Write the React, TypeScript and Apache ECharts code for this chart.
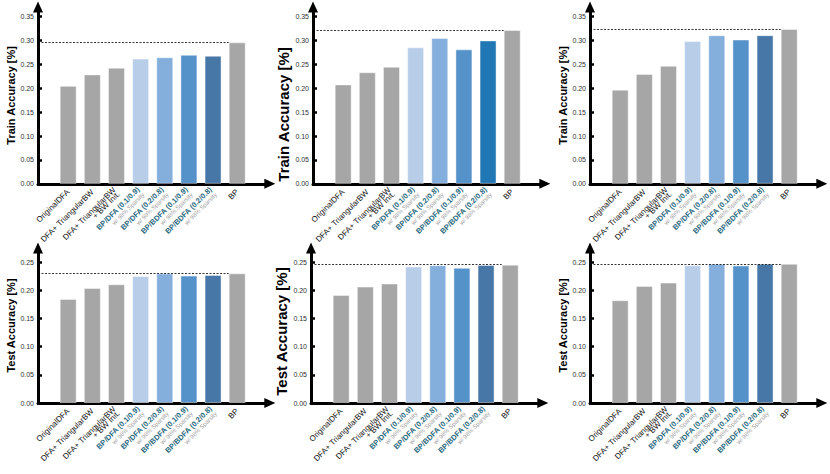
import React, { useEffect, useRef } from "react";
import * as echarts from "echarts";

const categories = [
  "OriginalDFA",
  "DFA+ TriangularBW",
  "DFA+ TriangularBW\n+ BW Init.",
  "BP/DFA (0.1/0.9)",
  "BP/DFA (0.2/0.8)",
  "BP/BDFA (0.1/0.9)",
  "BP/BDFA (0.2/0.8)",
  "BP",
];
const sparseNote = "w/ 98% Sparsity";
const sparseIdx = [3, 4, 5, 6];

const trainA = [0.205, 0.229, 0.243, 0.262, 0.265, 0.27, 0.268, 0.296];
const trainB = [0.208, 0.2335, 0.245, 0.2856, 0.305, 0.2814, 0.3, 0.322];
const trainC = [0.197, 0.23, 0.247, 0.2986, 0.311, 0.302, 0.311, 0.324];
const testA = [0.1846, 0.204, 0.2106, 0.2254, 0.23, 0.226, 0.2273, 0.23];
const testB = [0.1917, 0.2065, 0.212, 0.2423, 0.2446, 0.2399, 0.245, 0.2455];
const testC = [0.1823, 0.2077, 0.2136, 0.2445, 0.2469, 0.244, 0.2469, 0.247];

const trainTicks = [0, 0.05, 0.1, 0.15, 0.2, 0.25, 0.3, 0.35];
const testTicks = [0, 0.05, 0.1, 0.15, 0.2, 0.25];

const GRAY = "#a6a6a6";
const colorsDefault = [GRAY, GRAY, GRAY, "#b7cde8", "#84afdd", "#5592ca", "#4677a7", GRAY];
const colorsMid = [GRAY, GRAY, GRAY, "#b7cde8", "#84afdd", "#5592ca", "#2077b4", GRAY];

const FONT = "'Liberation Sans', Arial, sans-serif";

type Panel = {
  data: number[];
  colors: string[];
  name: string;
  ticks: number[];
  yMax: number;
  left: number;
  top: number;
  height: number;
  nameSize: number;
  nameGap: number;
  namePad: number;
};

const X_MIN = -1.25;
const X_MAX = 8.35;
const GRID_W = 231.8;
const BAR_W = 17;

const panels: Panel[] = [
  { data: trainA, colors: colorsDefault, name: "Train Accuracy [%]", ticks: trainTicks, yMax: 0.37, left: 38, top: 7, height: 176.8, nameSize: 11, nameGap: 21, namePad: 0 },
  { data: trainB, colors: colorsMid, name: "Train Accuracy [%]", ticks: trainTicks, yMax: 0.37, left: 313, top: 7, height: 176.8, nameSize: 15, nameGap: 17, namePad: 38 },
  { data: trainC, colors: colorsDefault, name: "Train Accuracy [%]", ticks: trainTicks, yMax: 0.37, left: 590, top: 7, height: 176.8, nameSize: 11, nameGap: 21, namePad: 0 },
  { data: testA, colors: colorsDefault, name: "Test Accuracy [%]", ticks: testTicks, yMax: 0.275, left: 38, top: 248, height: 155, nameSize: 11, nameGap: 21, namePad: 0 },
  { data: testB, colors: colorsDefault, name: "Test Accuracy [%]", ticks: testTicks, yMax: 0.275, left: 311, top: 248, height: 155, nameSize: 15, nameGap: 17, namePad: 12 },
  { data: testC, colors: colorsDefault, name: "Test Accuracy [%]", ticks: testTicks, yMax: 0.275, left: 590, top: 248, height: 155, nameSize: 11, nameGap: 21, namePad: 0 },
];

function labelFor(value: number): string {
  const i = Math.round(value);
  const c = categories[i];
  if (c === undefined) return "";
  if (sparseIdx.indexOf(i) >= 0) {
    return "{a|" + c + "}\n{b|" + sparseNote + "}";
  }
  return c
    .split("\n")
    .map((s) => "{n|" + s + "}")
    .join("\n");
}

export default function App() {
  const ref = useRef<HTMLDivElement>(null);
  useEffect(() => {
    if (!ref.current) return;
    const chart = echarts.init(ref.current, undefined, { renderer: "svg" });
    const axisLineStyle = { color: "#000", width: 3 };
    const option: any = {
      animation: false,
      textStyle: { fontFamily: FONT },
      grid: panels.map((p) => ({
        left: p.left,
        top: p.top,
        width: GRID_W,
        height: p.height,
        containLabel: false,
      })),
      xAxis: panels.map((p, k) => ({
        type: "value",
        gridIndex: k,
        min: X_MIN,
        max: X_MAX,
        splitLine: { show: false },
        axisTick: { show: false },
        axisLine: {
          show: true,
          onZero: false,
          lineStyle: axisLineStyle,
          symbol: ["none", "triangle"],
          symbolSize: [10, 11],
        },
        axisLabel: {
          customValues: [0, 1, 2, 3, 4, 5, 6, 7],
          rotate: 45,
          margin: 7,
          fontFamily: FONT,
          formatter: (v: number) => labelFor(v),
          rich: {
            a: { fontSize: 7.5, fontWeight: "bold", color: "#2b6a80", fontFamily: FONT, lineHeight: 8 },
            b: { fontSize: 6, color: "#a0a0a0", fontFamily: FONT, lineHeight: 7 },
            n: { fontSize: 8, color: "#111", fontFamily: FONT, lineHeight: 6 },
          },
        },
      })),
      yAxis: panels.map((p, k) => ({
        type: "value",
        gridIndex: k,
        min: 0,
        max: p.yMax,
        name: p.name,
        nameLocation: "middle",
        nameGap: p.nameGap,
        nameTextStyle: {
          fontSize: p.nameSize,
          fontWeight: "bold",
          color: "#000",
          fontFamily: FONT,
          padding: [0, p.namePad, 0, 0],
        },
        splitLine: { show: false },
        axisLine: {
          show: true,
          onZero: false,
          lineStyle: axisLineStyle,
          symbol: ["none", "triangle"],
          symbolSize: [10, 11],
        },
        axisTick: {
          show: true,
          inside: true,
          length: 4,
          customValues: p.ticks,
          lineStyle: { color: "#000", width: 2.5 },
        },
        axisLabel: {
          customValues: p.ticks,
          fontSize: 7,
          color: "#333",
          margin: 4,
          fontFamily: FONT,
          formatter: (v: number) => v.toFixed(2),
        },
      })),
      series: panels.map((p, k) => {
        const bpIdx = p.data.length - 1;
        const bp = p.data[bpIdx];
        const halfBar = BAR_W / 2 / (GRID_W / (X_MAX - X_MIN));
        return {
          type: "bar",
          xAxisIndex: k,
          yAxisIndex: k,
          barWidth: BAR_W,
          data: p.data.map((v, i) => ({
            value: [i, v],
            itemStyle: { color: p.colors[i] },
          })),
          itemStyle: { borderColor: "rgba(255,255,255,0.45)", borderWidth: 1 },
          markLine: {
            silent: true,
            symbol: "none",
            label: { show: false },
            lineStyle: { color: "#000", width: 0.8, type: [2, 1.5] },
            data: [
              [
                { coord: [X_MIN, bp] },
                { coord: [bpIdx - halfBar, bp] },
              ],
            ],
          },
        };
      }),
    };
    chart.setOption(option);
    return () => chart.dispose();
  }, []);
  return (
    <div
      ref={ref}
      style={{ position: "absolute", left: 0, top: 0, width: 830, height: 474, background: "#fff" }}
    />
  );
}
